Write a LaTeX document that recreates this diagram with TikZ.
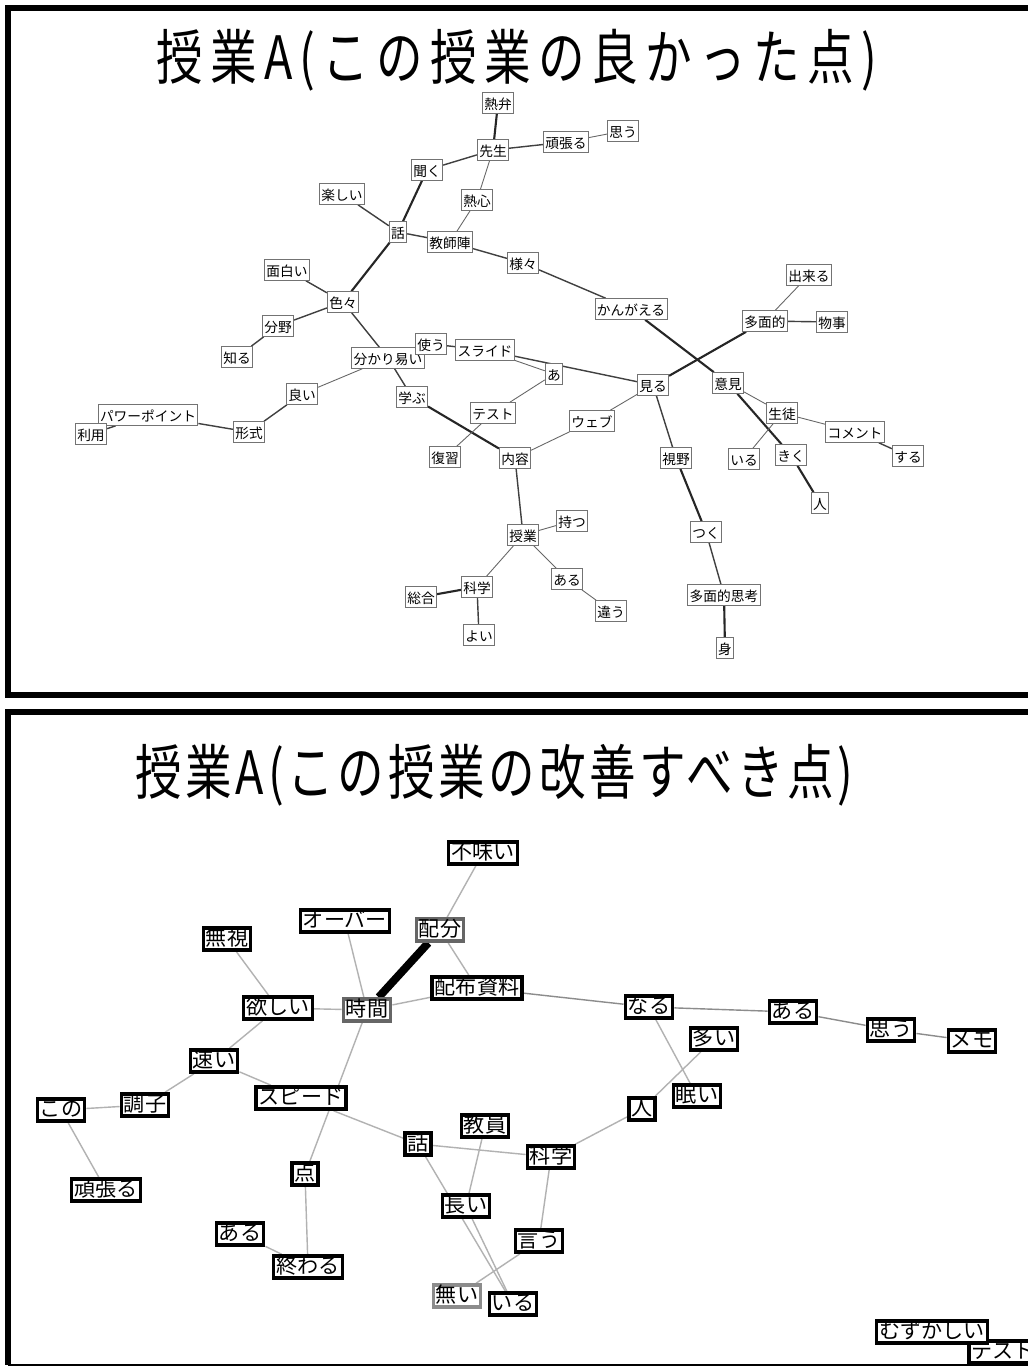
\documentclass[tikz,border=0pt]{standalone}
\usepackage{fontspec}
\setmainfont{Noto Sans CJK JP}
\usetikzlibrary{backgrounds}
\tikzset{
 tn/.style={draw=black!55, line width=0.5pt, fill=white, inner sep=1.1pt,
   font=\fontsize{7.8pt}{8pt}\selectfont, text height=0.86em, text depth=0.1em},
 bn/.style={draw=black, line width=2pt, fill=white, inner sep=1.5pt,
   font=\fontsize{12pt}{13pt}\selectfont, text height=0.86em, text depth=0.1em},
 bng/.style={bn, draw=black!60},
 bnl/.style={bn, draw=black!45},
 et/.style={line width=1.2pt, black!85},
 em/.style={line width=0.8pt, black!75},
 es/.style={line width=0.5pt, black!60},
 eg/.style={line width=0.8pt, black!30},
 egd/.style={line width=0.8pt, black!45},
 ttl/.style={inner sep=0pt, anchor=base west},
 frame/.style={line width=0.12cm, line join=miter},
}
\newcommand{\ttltext}[2]{\scalebox{0.78}[1]{\fontsize{34pt}{36pt}\selectfont\addfontfeature{LetterSpace=#1}#2}}
\begin{document}
\begin{tikzpicture}[x=0.02cm,y=-0.02cm]
\useasboundingbox (0,0) rectangle (1028,1367);
% frames
\draw[frame] (1040,8) -- (8,8) -- (8,695) -- (1040,695);
\draw[frame] (1040,712) -- (8,712) -- (8,1365);
\draw[line width=0.05cm] (8,1365) -- (1040,1365);
% titles
\node[ttl] (title1) at (156,79) {\ttltext{15.6}{授業A(この授業の良かった点)}};
\node[ttl] (title2) at (135,794) {\ttltext{8}{授業A(この授業の改善すべき点)}};
% ---------- top panel nodes ----------
\node[tn] (a1) at (498,103) {熱弁};
\node[tn] (a2) at (493,150) {先生};
\node[tn] (a3) at (566,142) {頑張る};
\node[tn] (a4) at (623,131) {思う};
\node[tn] (a5) at (427,170) {聞く};
\node[tn] (a6) at (342,194) {楽しい};
\node[tn] (a7) at (477,200) {熱心};
\node[tn] (a8) at (398,232) {話};
\node[tn] (a9) at (450,242) {教師陣};
\node[tn] (a10) at (523,263) {様々};
\node[tn] (a11) at (287,270) {面白い};
\node[tn] (a12) at (343,302) {色々};
\node[tn] (a13) at (809,275) {出来る};
\node[tn] (a14) at (765,321) {多面的};
\node[tn] (a15) at (832,322) {物事};
\node[tn] (a16) at (631,309) {かんがえる};
\node[tn] (a17) at (278,326) {分野};
\node[tn] (a18) at (237,357) {知る};
\node[tn] (a19) at (388,358) {分かり易い};
\node[tn] (a20) at (431,344) {使う};
\node[tn] (a21) at (485,350) {スライド};
\node[tn] (a22) at (554,374) {あ};
\node[tn] (a23) at (653,385) {見る};
\node[tn] (a24) at (728,383) {意見};
\node[tn] (a25) at (302,394) {良い};
\node[tn] (a26) at (412,397) {学ぶ};
\node[tn] (a27) at (148,415) {パワーポイント};
\node[tn] (a28) at (782,413) {生徒};
\node[tn] (a29) at (91,434) {利用};
\node[tn] (a30) at (249,432) {形式};
\node[tn] (a31) at (493,413) {テスト};
\node[tn] (a32) at (592,421) {ウェブ};
\node[tn] (a33) at (855,432) {コメント};
\node[tn] (a34) at (445,457) {復習};
\node[tn] (a35) at (515,458) {内容};
\node[tn] (a36) at (676,458) {視野};
\node[tn] (a37) at (744,459) {いる};
\node[tn] (a38) at (791,455) {きく};
\node[tn] (a39) at (908,456) {する};
\node[tn] (a40) at (820,503) {人};
\node[tn] (a41) at (572,521) {持つ};
\node[tn] (a42) at (523,535) {授業};
\node[tn] (a43) at (706,532) {つく};
\node[tn] (a44) at (567,579) {ある};
\node[tn] (a45) at (477,587) {科学};
\node[tn] (a46) at (421,597) {総合};
\node[tn] (a47) at (611,611) {違う};
\node[tn] (a48) at (724,595) {多面的思考};
\node[tn] (a49) at (479,635) {よい};
\node[tn] (a50) at (725,648) {身};
% ---------- bottom panel nodes ----------
\node[bn] (b1) at (483,853) {不味い};
\node[bn] (b2) at (345,921) {オーバー};
\node[bng] (b3) at (440,930) {配分};
\node[bn] (b4) at (227,939) {無視};
\node[bn] (b5) at (477,988) {配布資料};
\node[bn] (b6) at (278,1008) {欲しい};
\node[bng] (b7) at (367,1010) {時間};
\node[bn] (b8) at (214,1061) {速い};
\node[bn] (b9) at (145,1105) {調子};
\node[bn] (b10) at (61,1110) {この};
\node[bn] (b11) at (106,1190) {頑張る};
\node[bn] (b12) at (301,1098) {スピード};
\node[bn] (b13) at (305,1174) {点};
\node[bn] (b14) at (240,1234) {ある};
\node[bn] (b15) at (308,1267) {終わる};
\node[bn] (b16) at (418,1144) {話};
\node[bn] (b17) at (485,1126) {教員};
\node[bn] (b18) at (551,1157) {科学};
\node[bn] (b19) at (642,1109) {人};
\node[bn] (b20) at (466,1206) {長い};
\node[bn] (b21) at (539,1241) {言う};
\node[bnl] (b22) at (457,1296) {無い};
\node[bn] (b23) at (513,1304) {いる};
\node[bn] (b24) at (649,1007) {なる};
\node[bn] (b25) at (714,1039) {多い};
\node[bn] (b26) at (697,1096) {眠い};
\node[bn] (b27) at (793,1012) {ある};
\node[bn] (b28) at (891,1030) {思う};
\node[bn] (b29) at (972,1041) {メモ};
\node[bn] (b30) at (1003,1352) {テスト};
\node[bn] (b31) at (932,1332) {むずかしい};
% ---------- edges ----------
\begin{scope}[on background layer]
\fill[white] (0,0) rectangle (1028,1367);
\draw[et] (a1) -- (a2);
\draw[em] (a2) -- (a3);
\draw[es] (a3) -- (a4);
\draw[em] (a2) -- (a5);
\draw[es] (a2) -- (a7);
\draw[et] (a5) -- (a8);
\draw[em] (a6) -- (a8);
\draw[em] (a8) -- (a9);
\draw[es] (a7) -- (a9);
\draw[em] (a9) -- (a10);
\draw[em] (a10) -- (a16);
\draw[et] (a16) -- (a24);
\draw[et] (a8) -- (a12);
\draw[em] (a11) -- (a12);
\draw[em] (a12) -- (a17);
\draw[em] (a17) -- (a18);
\draw[em] (a12) -- (a19);
\draw[em] (a19) -- (a26);
\draw[es] (a19) -- (a25);
\draw[em] (a25) -- (a30);
\draw[em] (a30) -- (a27);
\draw[em] (a27) -- (a29);
\draw[et] (a26) -- (a35);
\draw[em] (a20) -- (a21);
\draw[es] (a21) -- (a22);
\draw[em] (a21) -- (a23);
\draw[es] (a22) -- (a31);
\draw[es] (a31) -- (a34);
\draw[es] (a35) -- (a32);
\draw[es] (a32) -- (a23);
\draw[et] (a23) -- (a14);
\draw[es] (a14) -- (a13);
\draw[em] (a14) -- (a15);
\draw[em] (a23) -- (a36);
\draw[et] (a36) -- (a43);
\draw[em] (a43) -- (a48);
\draw[et] (a48) -- (a50);
\draw[es] (a24) -- (a28);
\draw[et] (a24) -- (a38);
\draw[et] (a38) -- (a40);
\draw[es] (a28) -- (a33);
\draw[em] (a33) -- (a39);
\draw[es] (a28) -- (a37);
\draw[em] (a35) -- (a42);
\draw[es] (a42) -- (a41);
\draw[es] (a42) -- (a45);
\draw[es] (a42) -- (a44);
\draw[es] (a44) -- (a47);
\draw[et] (a45) -- (a46);
\draw[em] (a45) -- (a49);
% bottom
\draw[eg] (b1) -- (b3);
\draw[eg] (b3) -- (b5);
\draw[line width=4.5pt, black] (b7) -- (b3);
\draw[eg] (b4) -- (b6);
\draw[eg] (b6) -- (b7);
\draw[eg] (b2) -- (b7);
\draw[eg] (b7) -- (b5);
\draw[egd] (b5) -- (b24);
\draw[eg] (b6) -- (b8);
\draw[eg] (b8) -- (b9);
\draw[eg] (b8) -- (b12);
\draw[eg] (b10) -- (b9);
\draw[eg] (b10) -- (b11);
\draw[eg] (b7) -- (b13);
\draw[eg] (b12) -- (b16);
\draw[eg] (b13) -- (b15);
\draw[eg] (b14) -- (b15);
\draw[eg] (b16) -- (b18);
\draw[eg] (b16) -- (b23);
\draw[eg] (b20) -- (b23);
\draw[eg] (b17) -- (b20);
\draw[eg] (b18) -- (b21);
\draw[eg] (b21) -- (b22);
\draw[eg] (b18) -- (b19);
\draw[eg] (b19) -- (b25);
\draw[eg] (b24) -- (b26);
\draw[egd] (b24) -- (b27);
\draw[egd] (b27) -- (b28);
\draw[egd] (b28) -- (b29);
\end{scope}
\end{tikzpicture}
\end{document}
